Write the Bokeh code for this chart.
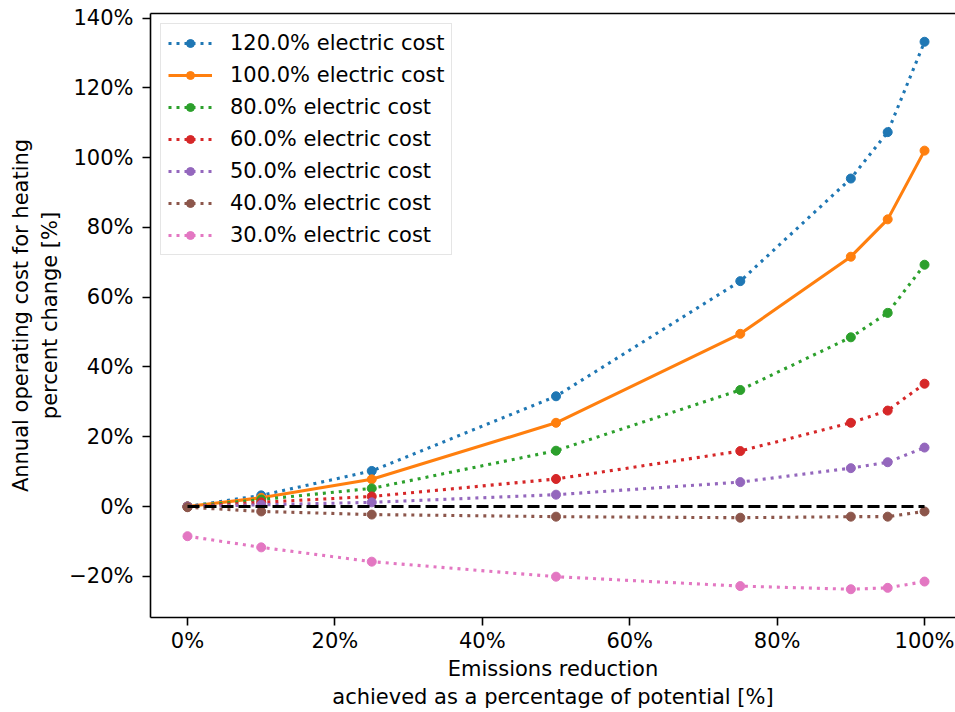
from bokeh.plotting import figure
from bokeh.models import (Range1d, FixedTicker, CustomJSTickFormatter, Legend, LegendItem,
                          LinearAxis)
from bokeh.embed import file_html
from bokeh.resources import INLINE

# ---- data ----
reduction = [0, 10, 25, 50, 75, 90, 95, 100]
labels = ["120.0% electric cost", "100.0% electric cost", "80.0% electric cost",
          "60.0% electric cost", "50.0% electric cost", "40.0% electric cost",
          "30.0% electric cost"]
cost_120 = [0.0, 3.2, 10.2, 31.6, 64.6, 94.0, 107.3, 133.2]
cost_100 = [0.0, 2.5, 7.8, 24.0, 49.5, 71.6, 82.3, 102.0]
cost_80 = [0.0, 2.0, 5.2, 16.0, 33.4, 48.5, 55.5, 69.3]
cost_60 = [0.0, 1.2, 2.9, 7.9, 15.9, 24.0, 27.5, 35.2]
cost_50 = [0.0, 0.5, 1.2, 3.4, 7.0, 11.0, 12.7, 16.9]
cost_40 = [-0.2, -1.4, -2.3, -2.9, -3.2, -2.9, -2.9, -1.4]
cost_30 = [-8.5, -11.7, -15.8, -20.1, -22.8, -23.7, -23.3, -21.5]
series = [cost_120, cost_100, cost_80, cost_60, cost_50, cost_40, cost_30]
colors = ["#1f77b4", "#ff7f0e", "#2ca02c", "#d62728", "#9467bd", "#8c564b", "#e377c2"]
dashes = ["3 5", "solid", "3 5", "3 5", "3 5", "3 5", "3 5"]
baseline_x = [0, 100]
baseline_y = [0, 0]
x_ticks = [0, 20, 40, 60, 80, 100]
y_ticks = [-20, 0, 20, 40, 60, 80, 100, 120, 140]
x_title = "Emissions reduction\nachieved as a percentage of potential [%]"
y_title = "Annual operating cost for heating\npercent change [%]"

FONT = "DejaVu Sans"
FS = "21px"

p = figure(width=955, height=712, output_backend="svg", toolbar_location=None,
           x_range=Range1d(-5.02, 104.2), y_range=Range1d(-31.8, 141.3),
           min_border_left=150, min_border_right=0, min_border_top=13,
           min_border_bottom=95)
p.xgrid.visible = False
p.ygrid.visible = False
p.outline_line_color = None
p.background_fill_color = "white"
p.border_fill_color = "white"

fmt = CustomJSTickFormatter(code="""
return (tick < 0 ? '\\u2212' : '') + Math.abs(tick).toFixed(0) + '%';
""")
for ax, ticks in ((p.xaxis[0], x_ticks), (p.yaxis[0], y_ticks)):
    ax.ticker = FixedTicker(ticks=ticks)
    ax.formatter = fmt
    ax.major_label_text_font = FONT
    ax.major_label_text_font_size = FS
    ax.major_label_text_color = "black"
    ax.axis_label_text_font = FONT
    ax.axis_label_text_font_size = FS
    ax.axis_label_text_font_style = "normal"
    ax.axis_label_text_color = "black"
    ax.minor_tick_line_color = None
    ax.major_tick_in = 0
    ax.major_tick_out = 8
    ax.major_tick_line_width = 1.6
    ax.major_tick_line_color = "black"
    ax.axis_line_color = "black"
    ax.axis_line_width = 1.6

p.xaxis[0].major_label_standoff = 3
p.yaxis[0].major_label_standoff = 9
p.xaxis[0].axis_label = x_title
p.yaxis[0].axis_label = y_title
p.xaxis[0].axis_label_standoff = 1
p.yaxis[0].axis_label_standoff = 4

# top spine
top = LinearAxis(ticker=FixedTicker(ticks=[]), major_label_text_font_size="0px",
                 axis_line_color="black", axis_line_width=1.6,
                 major_tick_line_color=None, minor_tick_line_color=None)
p.add_layout(top, "above")

items = []
for lab, ys, c, d in zip(labels, series, colors, dashes):
    lr = p.line(reduction, ys, line_color=c, line_width=3.1, line_dash=d)
    sr = p.scatter(reduction, ys, marker="circle", size=9, fill_color=c, line_color=c)
    items.append(LegendItem(label=lab, renderers=[lr, sr]))

p.line(baseline_x, baseline_y, line_color="black", line_width=3.1, line_dash="12 5")

leg = Legend(items=items, location="top_left", margin=10, padding=7, spacing=8,
             glyph_width=44, glyph_height=20, label_height=20, label_standoff=18,
             label_text_font=FONT, label_text_font_size=FS, label_text_color="black",
             border_line_color="#cccccc", border_line_width=1.5,
             background_fill_color="white", background_fill_alpha=0.8)
p.add_layout(leg, "center")

open("out.html", "w").write(file_html(p, INLINE))
